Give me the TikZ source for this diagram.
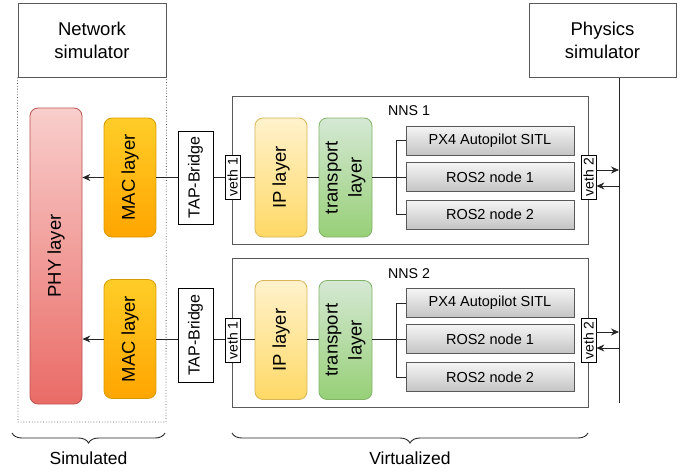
\documentclass[tikz,border=0pt]{standalone}
\usepackage{fontspec}
\setmainfont{Liberation Sans}
\usetikzlibrary{arrows.meta,decorations.pathreplacing}
\definecolor{edgegray}{HTML}{595959}
\definecolor{phytop}{HTML}{F8CECC}
\definecolor{phybot}{HTML}{EA6B66}
\definecolor{phyedge}{HTML}{B85450}
\definecolor{mactop}{HTML}{FFCD28}
\definecolor{macbot}{HTML}{FFA500}
\definecolor{macedge}{HTML}{D79B00}
\definecolor{iptop}{HTML}{FFF2CC}
\definecolor{ipbot}{HTML}{FFD966}
\definecolor{ipedge}{HTML}{D6B656}
\definecolor{trtop}{HTML}{D5E8D4}
\definecolor{trbot}{HTML}{97D077}
\definecolor{tredge}{HTML}{82B366}
\definecolor{apptop}{HTML}{F5F5F5}
\definecolor{appbot}{HTML}{C4C4C4}
\tikzset{
  x=1pt, y=-1pt,
  frame/.style={draw=edgegray, line width=1pt, fill=white, inner sep=0pt},
  layer/.style={rounded corners=8pt, line width=0.8pt, inner sep=0pt, rotate=90,
    minimum width=119pt, minimum height=52pt, font=\fontsize{18.5}{24}\selectfont, align=center},
  phy/.style={layer, draw=phyedge, top color=phytop, bottom color=phybot},
  mac/.style={layer, draw=macedge, top color=mactop, bottom color=macbot},
  ip/.style={layer, draw=ipedge, top color=iptop, bottom color=ipbot},
  tr/.style={layer, draw=tredge, top color=trtop, bottom color=trbot},
  app/.style={draw=edgegray, line width=0.8pt, top color=apptop, bottom color=appbot,
    minimum width=168pt, minimum height=29pt, inner sep=0pt, font=\fontsize{14.5}{17}\selectfont},
  veth/.style={draw=black, line width=0.8pt, fill=white, rotate=90, minimum width=44pt,
    minimum height=15pt, inner sep=0pt, font=\fontsize{14}{16}\selectfont},
  tap/.style={draw=black, line width=1pt, fill=white, rotate=90, minimum width=93pt,
    minimum height=35pt, inner sep=0pt, font=\fontsize{16}{19}\selectfont},
  conn/.style={draw=black!85, line width=0.8pt},
  arr/.style={conn, -{Stealth[length=8pt,width=7pt]}},
  lbl/.style={font=\fontsize{14.2}{17}\selectfont, inner sep=0pt},
  brc/.style={draw=black!85, line width=0.9pt, decorate, decoration={brace, mirror, amplitude=10pt}},
  big/.style={font=\fontsize{18.5}{23}\selectfont, align=center},
}
\begin{document}
\begin{tikzpicture}
\useasboundingbox (0,0) rectangle (694,472);
% top boxes
\node[frame, minimum width=148pt, minimum height=74pt, big] (net) at (92,40) {Network\\simulator};
\node[frame, minimum width=147pt, minimum height=74pt, big] (phys) at (602.5,40) {Physics\\simulator};
\draw[edgegray, dotted, line width=0.8pt] (net.south west) -- (18,422) -- (166,422) -- (net.south east);
% physics line
\coordinate (pl) at (619,403);
\draw[conn, line width=1pt] (pl |- phys.south) -- (pl);
% NNS containers
\node[frame, minimum width=356pt, minimum height=148pt] (nns1) at (410,170) {};
\node[frame, minimum width=356pt, minimum height=149pt] (nns2) at (410,332.5) {};
\node[lbl] (nl1) at (409,111) {NNS 1};
\node[lbl] (nl2) at (409,274) {NNS 2};
% PHY
\node[phy, minimum width=296pt] (phy) at (56,256) {PHY layer};
% row 1
\node[mac] (mac1) at (130,177.5) {MAC layer};
\node[tap] (tap1) at (195.5,177.5) {TAP-Bridge};
\node[veth] (va1) at (232.5,177) {veth 1};
\node[ip] (ip1) at (281,177.5) {IP layer};
\node[tr, minimum height=53pt] (tr1) at (345.5,177.5) {transport\\layer};
\node[app] (px1) at (490,140.5) {PX4 Autopilot SITL};
\node[app] (ra1) at (490,177) {ROS2 node 1};
\node[app] (rb1) at (490,214.5) {ROS2 node 2};
\node[veth] (vb1) at (588.5,177) {veth 2};
% row 2
\node[mac] (mac2) at (130,339) {MAC layer};
\node[tap, minimum width=94pt] (tap2) at (195.5,335) {TAP-Bridge};
\node[veth] (va2) at (232.5,340.5) {veth 1};
\node[ip] (ip2) at (281,340) {IP layer};
\node[tr, minimum height=53pt] (tr2) at (345.5,340) {transport\\layer};
\node[app] (px2) at (490,303) {PX4 Autopilot SITL};
\node[app] (ra2) at (490,339) {ROS2 node 1};
\node[app] (rb2) at (490,377) {ROS2 node 2};
\node[veth] (vb2) at (588.5,340.5) {veth 2};
% connectors row 1
\draw[arr] (mac1.north) -- (mac1.north -| phy.south);
\draw[conn] (mac1.south) -- (mac1.south -| tap1.north);
\draw[conn] (tap1.south) -- (tap1.south -| va1.north);
\draw[conn] (va1.south) -- (va1.south -| ip1.north);
\draw[conn] (ip1.south) -- (ip1.south -| tr1.north);
\draw[conn] (tr1.south) -- (tr1.south -| ra1.west);
\draw[conn] (px1.west) -- ++(-9,0) |- (rb1.west);
\draw[arr] ([yshift=7pt]vb1.south) -- ([yshift=7pt]vb1.south -| pl);
\draw[arr] ([yshift=-9pt]vb1.south -| pl) -- ([yshift=-9pt]vb1.south);
% connectors row 2
\draw[arr] (mac2.north) -- (mac2.north -| phy.south);
\draw[conn] (mac2.south) -- (mac2.south -| tap2.north);
\draw[conn] (mac2.south -| tap2.south) -- (mac2.south -| va2.north);
\draw[conn] (mac2.south -| va2.south) -- (mac2.south -| ip2.north);
\draw[conn] (mac2.south -| ip2.south) -- (mac2.south -| tr2.north);
\draw[conn] (mac2.south -| tr2.south) -- (ra2.west);
\draw[conn] (px2.west) -- ++(-9,0) |- (rb2.west);
\draw[arr] ([yshift=8.5pt]vb2.south) -- ([yshift=8.5pt]vb2.south -| pl);
\draw[arr] ([yshift=-7.5pt]vb2.south -| pl) -- ([yshift=-7.5pt]vb2.south);
% braces
\coordinate (bs1) at (12,433);
\coordinate (bs2) at (165,433);
\coordinate (bv1) at (232,433);
\coordinate (bv2) at (588,433);
\draw[brc] (bs1) -- (bs2);
\draw[brc] (bv1) -- (bv2);
\node[font=\fontsize{17.5}{20}\selectfont] (sim) at (88.5,458) {Simulated};
\node[font=\fontsize{17.5}{20}\selectfont] (virt) at (410,458) {Virtualized};
\end{tikzpicture}
\end{document}
